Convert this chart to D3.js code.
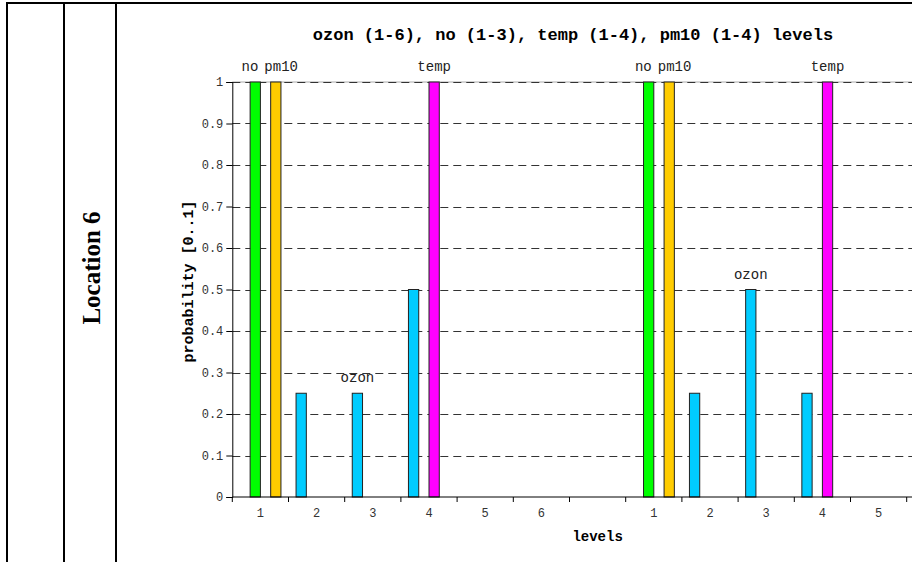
<!DOCTYPE html>
<html>
<head>
<meta charset="utf-8">
<script src="https://cdn.jsdelivr.net/npm/d3@7"></script>
<style>
  html, body { margin: 0; padding: 0; background: #fff; }
  svg { display: block; }
</style>
</head>
<body>
<svg id="chart" width="912" height="562"></svg>
<script>
// Level positions along the x axis: two runs of levels 1..6 with an empty slot between them
const positions = ["a1","a2","a3","a4","a5","a6","gap","b1","b2","b3","b4","b5","b6"];
const levelLabels = ["1","2","3","4","5","6","","1","2","3","4","5","6"];

// Series, drawn side by side inside each level slot
const seriesNames = ["ozon", "no", "temp", "pm10"];
const seriesColors = ["#00ccff", "#00ff00", "#ff00ff", "#ffcc00"];

// Probability of each level, per series (null = level not defined for the variable)
const ozon = [0, 0.25, 0.25, 0.5, 0, 0, null, 0, 0.25, 0.5, 0.25, 0, 0];
const no   = [1, 0, 0, null, null, null, null, 1, 0, 0, null, null, null];
const temp = [0, 0, 0, 1, null, null, null, 0, 0, 0, 1, null, null];
const pm10 = [1, 0, 0, 0, null, null, null, 1, 0, 0, 0, null, null];
const seriesValues = [ozon, no, temp, pm10];

// Slot over which each series' name is written (one per run)
const labelSlots = [[2, 9], [0, 7], [3, 10], [0, 7]];

const yTicks = [0, 0.1, 0.2, 0.3, 0.4, 0.5, 0.6, 0.7, 0.8, 0.9, 1];

const titleText = "ozon (1-6), no (1-3), temp (1-4), pm10 (1-4) levels";
const rowLabel = "Location 6";

(function draw() {
  const W = 912;
  const svg = d3.select("#chart");
  const mono = '"Courier New", "Liberation Mono", monospace';

  // ---- surrounding table frame ----
  const frame = svg.append("g").attr("stroke", "#000").attr("stroke-width", 2);
  frame.append("line").attr("x1", 6).attr("x2", W).attr("y1", 3).attr("y2", 3);
  [7, 64, 116].forEach(x => {
    frame.append("line").attr("x1", x).attr("x2", x).attr("y1", 2).attr("y2", 562);
  });

  svg.append("text")
    .attr("transform", "translate(91,268) rotate(-90)")
    .attr("text-anchor", "middle")
    .attr("dominant-baseline", "central")
    .attr("font-family", '"Times New Roman", "Liberation Serif", serif')
    .attr("font-weight", "bold")
    .attr("font-size", 25)
    .text(rowLabel);

  // ---- plot ----
  const pLeft = 232.3, pTop = 82, pBottom = 497, step = 56.2;
  const pRight = pLeft + step * positions.length;

  const x = d3.scaleBand().domain(positions).range([pLeft, pRight]).padding(0);
  const xs = d3.scaleBand().domain(seriesNames).range([0, x.bandwidth()])
    .paddingInner(0).paddingOuter(0.735);
  const y = d3.scaleLinear().domain([0, 1]).range([pBottom, pTop]);

  // grid
  const grid = svg.append("g");
  grid.append("line")
    .attr("x1", pLeft).attr("x2", pRight)
    .attr("y1", y(1)).attr("y2", y(1))
    .attr("stroke", "#aaa").attr("stroke-width", 1);
  grid.selectAll("line.g").data(yTicks.filter(v => v > 0)).join("line")
    .attr("class", "g")
    .attr("x1", pLeft).attr("x2", pRight)
    .attr("y1", d => Math.round(y(d)) + 0.5).attr("y2", d => Math.round(y(d)) + 0.5)
    .attr("stroke", "#333").attr("stroke-width", 1)
    .attr("stroke-dasharray", "8,5");

  // bars
  const barData = [];
  seriesNames.forEach((s, si) => {
    seriesValues[si].forEach((v, i) => {
      if (v) barData.push({ s, si, pos: positions[i], v });
    });
  });
  svg.append("g").selectAll("rect").data(barData).join("rect")
    .attr("x", d => x(d.pos) + xs(d.s))
    .attr("y", d => y(d.v))
    .attr("width", xs.bandwidth())
    .attr("height", d => y(0) - y(d.v))
    .attr("fill", d => seriesColors[d.si])
    .attr("stroke", "#222").attr("stroke-width", 1);

  // y axis
  const yAxis = d3.axisLeft(y).tickValues(yTicks).tickSize(6).tickPadding(3)
    .tickFormat(d => (d === 0 || d === 1) ? d3.format("d")(d) : d3.format(".1f")(d));
  const gy = svg.append("g").attr("transform", `translate(${pLeft},0)`).call(yAxis);
  gy.select(".domain").attr("stroke", "#000");
  gy.selectAll(".tick line").attr("stroke", "#000");
  gy.selectAll(".tick text").attr("font-family", mono).attr("font-size", 12).attr("fill", "#333");

  // x axis: ticks on slot boundaries, labels at slot centres
  const gx = svg.append("g").attr("transform", `translate(0,${pBottom})`);
  gx.append("line").attr("x1", pLeft).attr("x2", pRight).attr("y1", 0).attr("y2", 0)
    .attr("stroke", "#000");
  const bounds = positions.map(p => x(p)).concat([pRight]);
  gx.selectAll("line.t").data(bounds).join("line").attr("class", "t")
    .attr("x1", d => d).attr("x2", d => d).attr("y1", 0).attr("y2", 5)
    .attr("stroke", "#000");
  const tickLabels = positions
    .map((p, i) => ({ cx: x(p) + x.bandwidth() / 2, t: levelLabels[i] }))
    .filter(d => d.t && d.cx < W - 6);
  gx.selectAll("text").data(tickLabels).join("text")
    .attr("x", d => d.cx)
    .attr("y", 20)
    .attr("text-anchor", "middle")
    .attr("font-family", mono).attr("font-size", 12).attr("fill", "#333")
    .text(d => d.t);

  // series names above their bars, nudged apart when they collide
  const labelData = [];
  seriesNames.forEach((s, si) => {
    labelSlots[si].forEach(i => {
      const v = seriesValues[si][i] || 0;
      labelData.push({ s, cx: x(positions[i]) + xs(s) + xs.bandwidth() / 2, by: y(v) - 11 });
    });
  });
  const labels = svg.append("g").selectAll("text").data(labelData).join("text")
    .attr("text-anchor", "middle")
    .attr("font-family", mono).attr("font-size", 14).attr("fill", "#222")
    .attr("y", d => d.by)
    .text(d => d.s);
  labels.each(function (d) { d.w = this.getComputedTextLength(); });
  const gapPad = 6;
  labelData.forEach((a, i) => {
    labelData.forEach((b, j) => {
      if (j <= i || Math.abs(a.by - b.by) > 1) return;
      const [l, r] = a.cx <= b.cx ? [a, b] : [b, a];
      const need = (l.w + r.w) / 2 + gapPad - (r.cx - l.cx);
      if (need > 0) { l.cx -= need / 2; r.cx += need / 2; }
    });
  });
  labels.attr("x", d => d.cx);

  // titles
  svg.append("text")
    .attr("x", 573).attr("y", 40)
    .attr("text-anchor", "middle")
    .attr("font-family", mono).attr("font-weight", "bold").attr("font-size", 17)
    .text(titleText);

  svg.append("text")
    .attr("x", (pLeft + pRight) / 2).attr("y", 541)
    .attr("text-anchor", "middle")
    .attr("font-family", mono).attr("font-weight", "bold").attr("font-size", 14)
    .text("levels");

  svg.append("text")
    .attr("transform", `translate(193,${(pTop + pBottom) / 2 - 8}) rotate(-90)`)
    .attr("text-anchor", "middle")
    .attr("font-family", mono).attr("font-weight", "bold").attr("font-size", 15)
    .text("probability [0..1]");
})();
</script>
</body>
</html>
